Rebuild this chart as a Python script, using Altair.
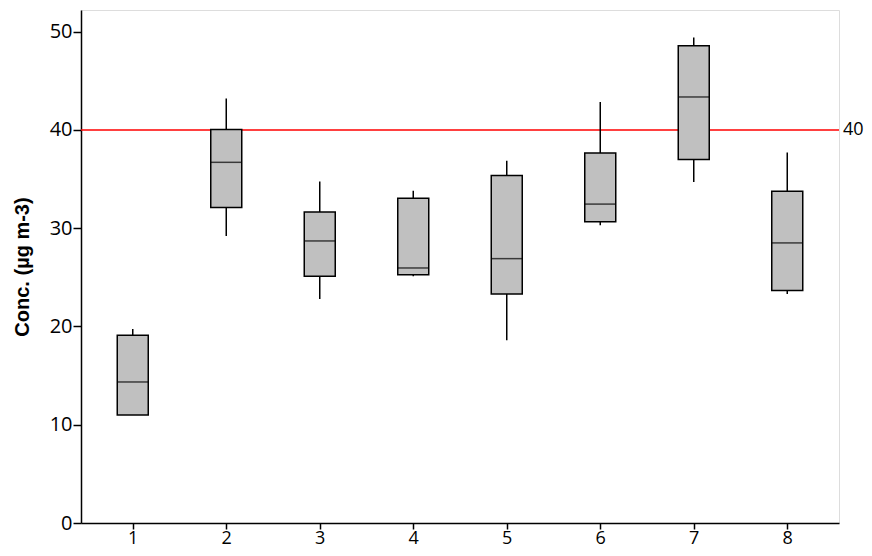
import altair as alt
import pandas as pd

groups = [1, 2, 3, 4, 5, 6, 7, 8]
whisker_low = [10.98, 29.2, 22.8, 25.1, 18.6, 30.3, 34.7, 23.3]
q1 = [10.98, 32.1, 25.1, 25.27, 23.3, 30.65, 37.0, 23.65]
median = [14.35, 36.7, 28.7, 25.95, 26.9, 32.45, 43.35, 28.5]
q3 = [19.1, 40.05, 31.65, 33.05, 35.35, 37.65, 48.55, 33.75]
whisker_high = [19.75, 43.2, 34.75, 33.8, 36.85, 42.85, 49.4, 37.7]
limit_value = [40]
y_ticks = [0, 10, 20, 30, 40, 50]

df = pd.DataFrame({"g": groups, "lo": whisker_low, "q1": q1, "med": median,
                   "q3": q3, "hi": whisker_high})
lim = pd.DataFrame({"v": limit_value, "label": [str(v) for v in limit_value]})

W, H = 758, 513
FONT = "Open Sans"

xs = alt.Scale(domain=[0.5, 8.5], nice=False, zero=False)
ys = alt.Scale(domain=[0, 52.2], nice=False, zero=False)

xax = alt.Axis(values=groups, format="d", title=None, grid=False, tickSize=6,
               labelFontSize=18, labelFont=FONT, labelColor="black",
               domainColor="black", tickColor="black", domainWidth=1.5,
               tickWidth=1.5, labelPadding=0)
yax = alt.Axis(values=y_ticks, format="d", title="Conc.  (\u00b5g m-3)", grid=False,
               tickSize=8, labelFontSize=20, labelFont=FONT, labelColor="black",
               domainColor="black", tickColor="black", domainWidth=1.5,
               tickWidth=1.5, labelPadding=1, titleFont="Liberation Sans",
               titleFontSize=20, titleFontWeight="bold", titleColor="black",
               titleX=-59, titleY=H / 2, titleAngle=270, titleAlign="center",
               titleBaseline="middle")

base = alt.Chart(df)

redline = alt.Chart(lim).mark_rule(color="#ff0000", strokeWidth=1.5).encode(
    y=alt.Y("v:Q", scale=ys, axis=yax)
)

whisk = base.mark_rule(color="black", strokeWidth=1.5).encode(
    x=alt.X("g:Q", scale=xs, axis=xax),
    y=alt.Y("lo:Q", scale=ys),
    y2="hi:Q",
)

box = base.mark_bar(size=31, color="#c0c0c0", stroke="black", strokeWidth=1.5).encode(
    x=alt.X("g:Q", scale=xs),
    y=alt.Y("q1:Q", scale=ys),
    y2="q3:Q",
)

med = base.mark_tick(orient="horizontal", size=31, thickness=1.5, color="black").encode(
    x=alt.X("g:Q", scale=xs),
    y=alt.Y("med:Q", scale=ys),
)

rlabel = alt.Chart(lim).mark_text(align="left", baseline="middle", fontSize=18,
                                  font=FONT, color="black").encode(
    x=alt.value(W + 4),
    y=alt.Y("v:Q", scale=ys),
    text="label:N",
)

chart = alt.layer(redline, whisk, box, med, rlabel).properties(
    width=W, height=H,
    autosize=alt.AutoSizeParams(type="none"),
    padding={"left": 73, "top": 2, "right": 25, "bottom": 25},
).configure_view(stroke="black", strokeWidth=1.5).configure(background="white")

chart.save("out.html", embed_options={"renderer": "svg", "actions": False})
